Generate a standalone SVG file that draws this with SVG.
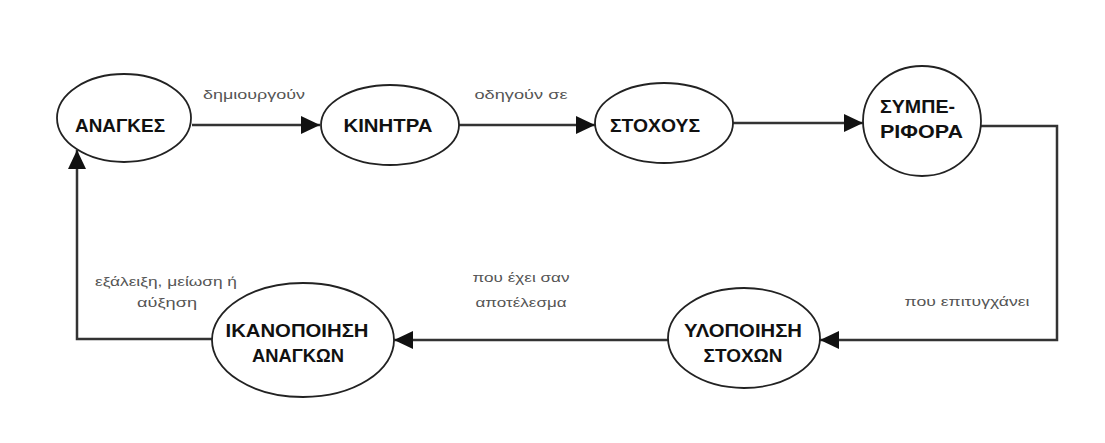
<svg xmlns="http://www.w3.org/2000/svg" width="1105" height="443" viewBox="0 0 1105 443">
<style>
.node{fill:#fff;stroke:#222;stroke-width:1.8}
.nt{font-family:"Liberation Sans","DejaVu Sans",sans-serif;font-weight:bold;font-size:19px;fill:#111}
.lt{font-family:"Liberation Sans","DejaVu Sans",sans-serif;font-size:12px;fill:#555}
.conn{fill:none;stroke:#333;stroke-width:2.5}
</style>
<defs>
<marker id="arr" markerUnits="userSpaceOnUse" markerWidth="20" markerHeight="18" refX="19" refY="9" orient="auto">
<path d="M0,0 L19,9 L0,18 Z" fill="#111"/>
</marker>
</defs>
<rect width="1105" height="443" fill="#fff"/>
<g id="connectors">
<path class="conn" d="M192,125 L320,125" marker-end="url(#arr)"/>
<path class="conn" d="M459,125 L595,125" marker-end="url(#arr)"/>
<path class="conn" d="M733,123 L863,123" marker-end="url(#arr)"/>
<path class="conn" d="M981,126 L1057,126 L1057,340 L820,340" marker-end="url(#arr)"/>
<path class="conn" d="M668,340 L394,340" marker-end="url(#arr)"/>
<path class="conn" d="M212,339 L77,339 L77,150" marker-end="url(#arr)"/>
<text class="lt" x="254" y="99" text-anchor="middle" textLength="102" lengthAdjust="spacingAndGlyphs">δημιουργούν</text>
<text class="lt" x="521" y="99" text-anchor="middle" textLength="93" lengthAdjust="spacingAndGlyphs">οδηγούν σε</text>
<text class="lt" x="967" y="306" text-anchor="middle" textLength="125" lengthAdjust="spacingAndGlyphs">που επιτυγχάνει</text>
<text class="lt" x="521" y="282" text-anchor="middle" textLength="97" lengthAdjust="spacingAndGlyphs">που έχει σαν</text>
<text class="lt" x="521" y="307" text-anchor="middle" textLength="91" lengthAdjust="spacingAndGlyphs">αποτέλεσμα</text>
<text class="lt" x="166" y="286" text-anchor="middle" textLength="142" lengthAdjust="spacingAndGlyphs">εξάλειξη, μείωση ή</text>
<text class="lt" x="167" y="307" text-anchor="middle" textLength="60" lengthAdjust="spacingAndGlyphs">αύξηση</text>
</g>
<g id="anagkes">
<ellipse class="node" cx="124" cy="118" rx="67" ry="44"/>
<text class="nt" x="120" y="132" text-anchor="middle" textLength="90" lengthAdjust="spacingAndGlyphs">ΑΝΑΓΚΕΣ</text>
</g>
<g id="kinitra">
<ellipse class="node" cx="390" cy="125" rx="69" ry="40"/>
<text class="nt" x="388" y="132" text-anchor="middle" textLength="89" lengthAdjust="spacingAndGlyphs">ΚΙΝΗΤΡΑ</text>
</g>
<g id="stoxous">
<ellipse class="node" cx="664" cy="123" rx="69" ry="40"/>
<text class="nt" x="655" y="132" text-anchor="middle" textLength="90" lengthAdjust="spacingAndGlyphs">ΣΤΟΧΟΥΣ</text>
</g>
<g id="symperifora">
<ellipse class="node" cx="922" cy="121" rx="59" ry="55"/>
<text class="nt" x="880" y="113" textLength="75" lengthAdjust="spacingAndGlyphs">ΣΥΜΠΕ-</text>
<text class="nt" x="880" y="138" textLength="83" lengthAdjust="spacingAndGlyphs">ΡΙΦΟΡΑ</text>
</g>
<g id="ylopoiisi">
<ellipse class="node" cx="744" cy="338" rx="76" ry="50"/>
<text class="nt" x="743" y="337" text-anchor="middle" textLength="118" lengthAdjust="spacingAndGlyphs">ΥΛΟΠΟΙΗΣΗ</text>
<text class="nt" x="743" y="362" text-anchor="middle" textLength="79" lengthAdjust="spacingAndGlyphs">ΣΤΟΧΩΝ</text>
</g>
<g id="ikanopoiisi">
<ellipse class="node" cx="303" cy="340" rx="91" ry="57"/>
<text class="nt" x="297" y="337" text-anchor="middle" textLength="143" lengthAdjust="spacingAndGlyphs">ΙΚΑΝΟΠΟΙΗΣΗ</text>
<text class="nt" x="298" y="362" text-anchor="middle" textLength="92" lengthAdjust="spacingAndGlyphs">ΑΝΑΓΚΩΝ</text>
</g>
</svg>
